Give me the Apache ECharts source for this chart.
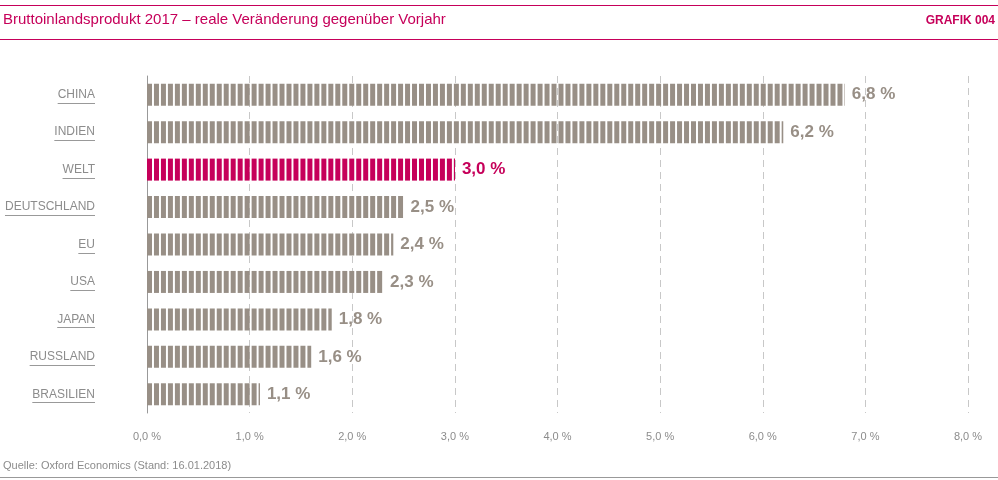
<!DOCTYPE html>
<html><head><meta charset="utf-8">
<script src="https://cdn.jsdelivr.net/npm/echarts@6/dist/echarts.min.js"></script>
<style>body{margin:0}#main{width:998px;height:480px}</style>
</head><body><div id="main"></div>
<script>
const countries = ['CHINA', 'INDIEN', 'WELT', 'DEUTSCHLAND', 'EU', 'USA', 'JAPAN', 'RUSSLAND', 'BRASILIEN'];
const growth = [6.8, 6.2, 3.0, 2.5, 2.4, 2.3, 1.8, 1.6, 1.1];
const highlight = 'WELT';

const GREY = '#988f86', RED = '#c6005a';
const font = 'Helvetica, "Liberation Sans", Arial, sans-serif';
const chart = echarts.init(document.getElementById('main'));
const fmt = v => v.toFixed(1).replace('.', ',') + ' %';

chart.setOption({
  animation: false,
  textStyle: { fontFamily: font },
  grid: { left: 147, right: 30, top: 76, height: 337 },
  xAxis: {
    type: 'value', min: 0, max: 8, interval: 1,
    axisLabel: { color: '#8c8c8c', fontSize: 11, margin: 18, formatter: fmt },
    axisLine: { show: false }, axisTick: { show: false },
    splitLine: { lineStyle: { type: [7, 5], color: '#c8c8c8' } }
  },
  yAxis: {
    type: 'category', inverse: true, data: countries,
    axisLine: { lineStyle: { color: '#999' } }, axisTick: { show: false },
    axisLabel: { color: '#8c8c8c', fontSize: 12, margin: 52, align: 'right' }
  },
  series: [{
    type: 'pictorialBar',
    symbol: 'rect', symbolRepeat: true, symbolClip: true,
    symbolSize: [5, 22], symbolMargin: 1, symbolOffset: [0, 0],
    data: growth.map((v, i) => ({
      value: v,
      itemStyle: { color: countries[i] === highlight ? RED : GREY }
    })),
    z: 3
  }, {
    type: 'bar', barWidth: 22, barGap: '-100%',
    itemStyle: { color: 'transparent' },
    data: growth.map((v, i) => ({
      value: v,
      label: { color: countries[i] === highlight ? RED : GREY }
    })),
    label: { show: true, position: 'right', distance: 7, fontSize: 17, fontWeight: 'bold',
      formatter: p => fmt(p.value) }
  }],
  graphic: [
    { type: 'line', shape: { x1: 0, y1: 5.5, x2: 998, y2: 5.5 }, style: { stroke: RED, lineWidth: 1 } },
    { type: 'line', shape: { x1: 0, y1: 39.5, x2: 998, y2: 39.5 }, style: { stroke: RED, lineWidth: 1 } },
    { type: 'text', left: 3, top: 12, style: { text: 'Bruttoinlandsprodukt 2017 – reale Veränderung gegenüber Vorjahr', fill: RED, fontSize: 15, fontFamily: font } },
    { type: 'text', right: 3, top: 15, style: { text: 'GRAFIK 004', fill: RED, fontSize: 12, fontWeight: 'bold', fontFamily: font } },
    { type: 'text', left: 3, top: 460, style: { text: 'Quelle: Oxford Economics (Stand: 16.01.2018)', fill: '#8c8c8c', fontSize: 11, fontFamily: font } },
    { type: 'line', shape: { x1: 0, y1: 477.5, x2: 998, y2: 477.5 }, style: { stroke: '#999', lineWidth: 1 } }
  ]
});

// underline the category labels
const ctx = document.createElement('canvas').getContext('2d');
ctx.font = '12px ' + font;
const lines = countries.map(c => {
  const y = Math.round(chart.convertToPixel({ yAxisIndex: 0 }, c)) + 8.5;
  const w = ctx.measureText(c).width;
  const xr = 147 - 52;
  return { type: 'line', shape: { x1: xr - w, y1: y, x2: xr, y2: y }, style: { stroke: '#999', lineWidth: 1 } };
});
chart.setOption({ graphic: chart.getOption().graphic[0].elements.concat(lines) });
</script></body></html>
